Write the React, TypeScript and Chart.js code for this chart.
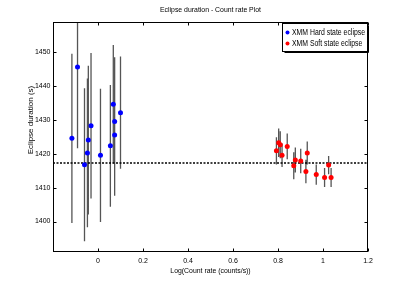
import React, { useEffect, useRef } from "react";
import { Chart, registerables } from "chart.js";

Chart.register(...registerables);

const FONT = "'Liberation Sans', Arial, sans-serif";

const TITLE = "Eclipse duration - Count rate Plot";
const X_TITLE = "Log(Count rate (counts/s))";
const Y_TITLE = "Eclipse duration (s)";
const X_TICKS = [0, 0.2, 0.4, 0.6, 0.8, 1, 1.2];
const Y_TICKS = [1400, 1410, 1420, 1430, 1440, 1450];
const X_MIN = -0.2;
const X_MAX = 1.2;
const Y_MIN = 1391;
const Y_MAX = 1459;
const MEAN_DURATION = 1417.3;

const HARD_LABEL = "XMM Hard state eclipse";
const HARD_X = [-0.116, -0.091, -0.06, -0.047, -0.043, -0.031, 0.011, 0.055, 0.068, 0.074, 0.074, 0.1];
const HARD_Y = [1424.6, 1445.7, 1416.8, 1420.3, 1424.1, 1428.3, 1419.6, 1422.4, 1434.7, 1429.6, 1425.6, 1432.2];
const HARD_ERR = [25, 24, 22.6, 22, 22, 21.5, 19.7, 18, 17.5, 19, 18, 16.6];

const SOFT_LABEL = "XMM Soft state eclipse";
const SOFT_X = [0.793, 0.803, 0.81, 0.818, 0.841, 0.87, 0.877, 0.901, 0.924, 0.93, 0.97, 1.007, 1.025, 1.036];
const SOFT_Y = [1420.9, 1423.3, 1422.7, 1419.6, 1422.2, 1416.5, 1418.2, 1417.9, 1414.8, 1420.3, 1413.9, 1413.0, 1416.7, 1413.0];
const SOFT_ERR = [4, 4.2, 4, 3.5, 3.8, 4, 3.7, 3.6, 3.5, 3.4, 3, 2.8, 2.7, 2.8];

const HARD_COLOR = "#0000ff";
const SOFT_COLOR = "#ff0000";
const BAR_COLOR = "#555555";

function points(xs: number[], ys: number[]) {
  return xs.map((x, i) => ({ x, y: ys[i] }));
}

function errorBars(xs: number[], ys: number[], errs: number[]) {
  const out: any[] = [];
  xs.forEach((x, i) => {
    out.push({ x, y: ys[i] - errs[i] });
    out.push({ x, y: ys[i] + errs[i] });
    out.push({ x, y: null });
  });
  return out;
}

function narrowText(ctx: any, text: string, x: number, y: number, size: number, sx: number, align: string) {
  ctx.save();
  ctx.translate(x, y);
  ctx.scale(sx, 1);
  ctx.font = `${size}px ${FONT}`;
  ctx.textAlign = align;
  ctx.textBaseline = "middle";
  ctx.fillText(text, 0, 0);
  ctx.restore();
}

const decor = {
  id: "decor",
  afterDraw(chart: any) {
    const { ctx, chartArea: a, scales } = chart;
    const xs = scales.x;
    const ys = scales.y;
    ctx.save();
    ctx.strokeStyle = "#000";
    ctx.lineWidth = 1;
    const L = Math.round(a.left) + 0.5;
    const R = Math.round(a.right) - 0.5;
    const T = Math.round(a.top) + 0.5;
    const B = Math.round(a.bottom) - 0.5;
    ctx.strokeRect(L, T, R - L, B - T);
    ctx.beginPath();
    X_TICKS.forEach((v) => {
      const px = Math.round(xs.getPixelForValue(v)) + 0.5;
      ctx.moveTo(px, B);
      ctx.lineTo(px, B - 3);
      ctx.moveTo(px, T);
      ctx.lineTo(px, T + 3);
    });
    Y_TICKS.forEach((v) => {
      const py = Math.round(ys.getPixelForValue(v)) + 0.5;
      ctx.moveTo(L, py);
      ctx.lineTo(L + 3, py);
      ctx.moveTo(R, py);
      ctx.lineTo(R - 3, py);
    });
    ctx.stroke();

    // titles
    ctx.fillStyle = "#000";
    const cx = (a.left + a.right) / 2;
    narrowText(ctx, TITLE, cx, 10, 8, 0.86, "center");
    narrowText(ctx, X_TITLE, cx, 271, 8, 0.86, "center");
    ctx.save();
    ctx.translate(31, 120);
    ctx.rotate(-Math.PI / 2);
    ctx.font = `8px ${FONT}`;
    ctx.textAlign = "center";
    ctx.textBaseline = "middle";
    ctx.fillText(Y_TITLE, 0, 0);
    ctx.restore();

    // legend
    const bw = 85;
    const bh = 28;
    const bx = Math.round(a.right) - bw - 0.5;
    const by = Math.round(a.top) + 1.5;
    ctx.fillStyle = "#fff";
    ctx.fillRect(bx, by, bw, bh);
    ctx.strokeStyle = "#000";
    ctx.strokeRect(bx, by, bw, bh);
    ctx.beginPath();
    ctx.moveTo(bx + bw + 1, by + 2);
    ctx.lineTo(bx + bw + 1, by + bh + 1);
    ctx.lineTo(bx + 2, by + bh + 1);
    ctx.stroke();
    const items = [
      [HARD_LABEL, HARD_COLOR],
      [SOFT_LABEL, SOFT_COLOR],
    ];
    items.forEach(([label, color], i) => {
      const cy = by + 9 + i * 11;
      ctx.fillStyle = color;
      ctx.beginPath();
      ctx.arc(bx + 5, cy, 2, 0, Math.PI * 2);
      ctx.fill();
      ctx.fillStyle = "#000";
      narrowText(ctx, label, bx + 9.5, cy, 8.2, 0.84, "left");
    });
    ctx.restore();
  },
};

export default function App() {
  const ref = useRef<HTMLCanvasElement | null>(null);
  useEffect(() => {
    if (!ref.current) return;
    const chart = new Chart(ref.current, {
      type: "scatter",
      data: {
        datasets: [
          {
            type: "line",
            label: "hard-err",
            data: errorBars(HARD_X, HARD_Y, HARD_ERR),
            borderColor: BAR_COLOR,
            borderWidth: 1.3,
            pointRadius: 0,
            spanGaps: false,
            order: 3,
          } as any,
          {
            type: "line",
            label: "soft-err",
            data: errorBars(SOFT_X, SOFT_Y, SOFT_ERR),
            borderColor: BAR_COLOR,
            borderWidth: 1.3,
            pointRadius: 0,
            spanGaps: false,
            order: 3,
          } as any,
          {
            type: "line",
            label: "mean",
            data: [
              { x: X_MIN, y: MEAN_DURATION },
              { x: X_MAX, y: MEAN_DURATION },
            ],
            borderColor: "#000",
            borderWidth: 1.4,
            borderDash: [2, 1.5],
            pointRadius: 0,
            order: 2,
          } as any,
          {
            label: HARD_LABEL,
            data: points(HARD_X, HARD_Y),
            backgroundColor: HARD_COLOR,
            borderColor: HARD_COLOR,
            pointRadius: 2.5,
            borderWidth: 0,
            order: 1,
          },
          {
            label: SOFT_LABEL,
            data: points(SOFT_X, SOFT_Y),
            backgroundColor: SOFT_COLOR,
            borderColor: SOFT_COLOR,
            pointRadius: 2.5,
            borderWidth: 0,
            order: 1,
          },
        ],
      },
      options: {
        responsive: false,
        animation: false,
        layout: { padding: { top: 22, right: 39, left: 0, bottom: 0 } },
        plugins: {
          legend: { display: false },
          title: { display: false },
          tooltip: { enabled: false },
        },
        scales: {
          x: {
            type: "linear",
            min: X_MIN,
            max: X_MAX,
            grid: { display: false, drawTicks: false },
            border: { display: false },
            afterBuildTicks: (s: any) => {
              s.ticks = X_TICKS.map((v) => ({ value: v }));
            },
            afterFit: (s: any) => {
              s.height = 31;
            },
            ticks: {
              padding: 4.5,
              color: "#000",
              font: { family: FONT, size: 7 },
              callback: (v: any) => String(v),
            },
          },
          y: {
            type: "linear",
            min: Y_MIN,
            max: Y_MAX,
            grid: { display: false, drawTicks: false },
            border: { display: false },
            afterBuildTicks: (s: any) => {
              s.ticks = Y_TICKS.map((v) => ({ value: v }));
            },
            afterFit: (s: any) => {
              s.width = 53;
            },
            ticks: {
              padding: 2.5,
              color: "#000",
              font: { family: FONT, size: 7 },
              callback: (v: any) => String(v),
            },
          },
        },
      },
      plugins: [decor],
    });
    return () => chart.destroy();
  }, []);
  return (
    <div style={{ position: "fixed", left: 0, top: 0, width: 407, height: 283, background: "#fff" }}>
      <canvas ref={ref} width={407} height={283} style={{ display: "block" }} />
    </div>
  );
}
